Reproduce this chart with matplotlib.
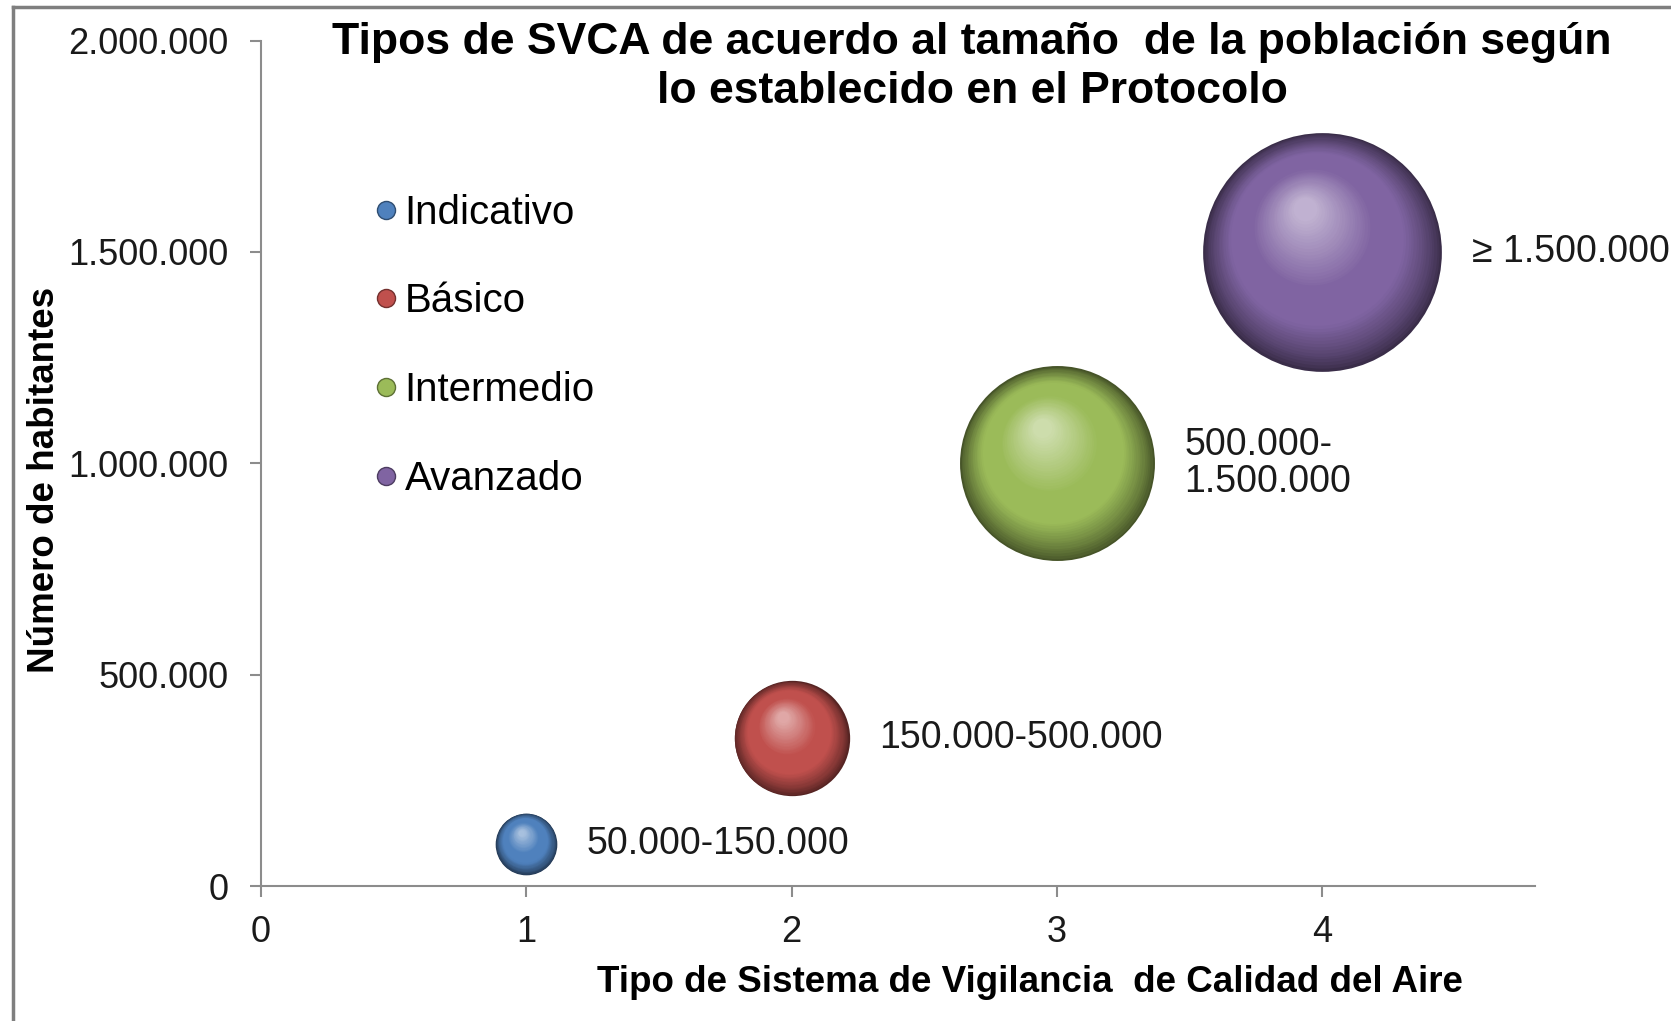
import matplotlib
matplotlib.use('Agg')
import matplotlib.pyplot as plt
import numpy as np
from matplotlib.transforms import offset_copy
from matplotlib.lines import Line2D
from matplotlib.ticker import FuncFormatter, MultipleLocator

plt.rcParams['font.family'] = ['Liberation Sans', 'DejaVu Sans']

# datos
tipos = [1, 2, 3, 4]
habitantes = [100000, 350000, 1000000, 1500000]
tamano = [100000, 350000, 1000000, 1500000]
nombres = ['Indicativo', 'Básico', 'Intermedio', 'Avanzado']
rangos = ['50.000-150.000', '150.000-500.000', '500.000-\n1.500.000', '≥ 1.500.000']
colores = ['#4f81bd', '#c0504d', '#9bbb59', '#8064a2']

escala = 0.0197  # points^2 por habitante


def mezcla(c1, c2, t):
    c1 = np.array(matplotlib.colors.to_rgb(c1))
    c2 = np.array(matplotlib.colors.to_rgb(c2))
    return tuple(c1 * (1 - t) + c2 * t)


def esfera(ax, x, y, s, color, n=50):
    r = np.sqrt(s) / 2.0
    oscuro = mezcla(color, 'black', 0.55)
    claro = mezcla(color, 'white', 0.5)
    for i in range(n):
        t = i / (n - 1)
        f = 1 - 0.9 * t
        if t < 0.3:
            c = mezcla(oscuro, color, (t / 0.3) ** 0.8)
        elif t < 0.55:
            c = color
        else:
            c = mezcla(color, claro, (t - 0.55) / 0.45)
        dx = -0.15 * r * t
        dy = 0.36 * r * t
        tr = offset_copy(ax.transData, fig=ax.figure, x=dx, y=dy, units='points')
        ax.scatter([x], [y], s=s * f * f, color=c, transform=tr,
                   linewidths=0, zorder=3 + i * 0.01, clip_on=False)


fig = plt.figure(figsize=(16.71, 10.21), dpi=100)
ax = fig.add_axes([0.156, 0.1322, 0.7625, 0.828])

for xi, yi, si, col, lab in zip(tipos, habitantes, tamano, colores, rangos):
    s = si * escala
    esfera(ax, xi, yi, s, col)
    r_px = np.sqrt(s) / 2.0 / 0.72
    ax.annotate(lab, (xi, yi), xytext=((r_px + 30) * 0.72, 0), textcoords='offset points',
                ha='left', va='center', fontsize=27, color='#1a1a1a', linespacing=1.05)

ax.set_xlim(0, 4.8)
ax.set_ylim(0, 2000000)
ax.xaxis.set_major_locator(MultipleLocator(1))
ax.yaxis.set_major_locator(MultipleLocator(500000))
ax.xaxis.set_major_formatter(FuncFormatter(lambda v, p: '%d' % v if v <= 4 else ''))
ax.yaxis.set_major_formatter(FuncFormatter(lambda v, p: '{:,.0f}'.format(v).replace(',', '.')))

for sp in ['top', 'right']:
    ax.spines[sp].set_visible(False)
for sp in ['left', 'bottom']:
    ax.spines[sp].set_color('#8c8c8c')
    ax.spines[sp].set_linewidth(1.5)
ax.tick_params(axis='both', colors='#8c8c8c', length=8, width=1.5, labelsize=26,
               labelcolor='#1a1a1a')
ax.tick_params(axis='y', pad=15)
ax.tick_params(axis='x', pad=13)

ax.set_xlabel('Tipo de Sistema de Vigilancia  de Calidad del Aire', fontsize=26.5,
              fontweight='bold', va='center')
ax.xaxis.set_label_coords(0.604, -0.114)
ax.set_ylabel('Número de habitantes', fontsize=26.5, fontweight='bold', va='center')
ax.yaxis.set_label_coords(-0.1695, 0.4807)

fig.text(0.5817, 0.978, 'Tipos de SVCA de acuerdo al tamaño  de la población según\nlo establecido en el Protocolo',
         ha='center', va='top', fontsize=32, fontweight='bold', linespacing=1.25)

handles = [Line2D([], [], marker='o', linestyle='none', markersize=13,
                  markerfacecolor=c, markeredgecolor=mezcla(c, 'black', 0.4), markeredgewidth=1)
           for c in colores]
ax.legend(handles, nombres, loc='upper left', bbox_to_anchor=(0.212, 0.83),
          bbox_transform=fig.transFigure, frameon=False, fontsize=29,
          handlelength=0.6, handletextpad=0.15, labelspacing=1.26, borderpad=0)

# marco
fig.add_artist(Line2D([13 / 1671, 13 / 1671], [0, 1 - 7 / 1021], color='#7f7f7f', lw=2.5,
                      transform=fig.transFigure))
fig.add_artist(Line2D([13 / 1671, 1], [1 - 7 / 1021, 1 - 7 / 1021], color='#7f7f7f', lw=2.5,
                      transform=fig.transFigure))

fig.savefig('out.png', dpi=100)
